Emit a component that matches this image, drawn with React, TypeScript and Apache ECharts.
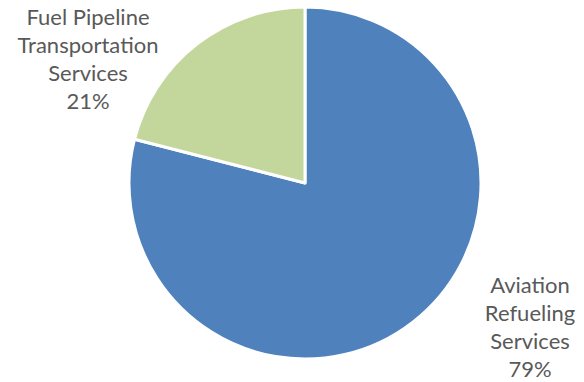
import React, { useEffect, useRef } from "react";
import * as echarts from "echarts";

const categories = ["Aviation\nRefueling\nServices", "Fuel Pipeline\nTransportation\nServices"];
const values = [79, 21];
const colors = ["#4F81BD", "#C3D69B"];
const labelCenters = [
  [530, 326],
  [88, 58],
];

export default function App() {
  const ref = useRef<HTMLDivElement>(null);
  useEffect(() => {
    const chart = echarts.init(ref.current!, null, { renderer: "svg" });
    chart.setOption({
      animation: false,
      backgroundColor: "#ffffff",
      series: [
        {
          type: "pie",
          center: [305, 183],
          radius: [0, 176],
          startAngle: 90,
          clockwise: true,
          data: categories.map((name, i) => ({
            name,
            value: values[i],
            itemStyle: { color: colors[i] },
          })),
          itemStyle: { borderColor: "#ffffff", borderWidth: 3 },
          label: {
            show: true,
            formatter: "{b}\n{d}%",
            color: "#595959",
            fontFamily: "Lato",
            fontSize: 22,
            lineHeight: 28,
            align: "center",
          },
          labelLine: { show: false },
          labelLayout: (params: any) => ({
            x: labelCenters[params.dataIndex][0],
            y: labelCenters[params.dataIndex][1],
            align: "center",
            verticalAlign: "middle",
          }),
          emphasis: { disabled: true },
        },
      ],
    });
    return () => chart.dispose();
  }, []);
  return (
    <div
      ref={ref}
      style={{ position: "fixed", left: 0, top: 0, width: 584, height: 382 }}
    />
  );
}
